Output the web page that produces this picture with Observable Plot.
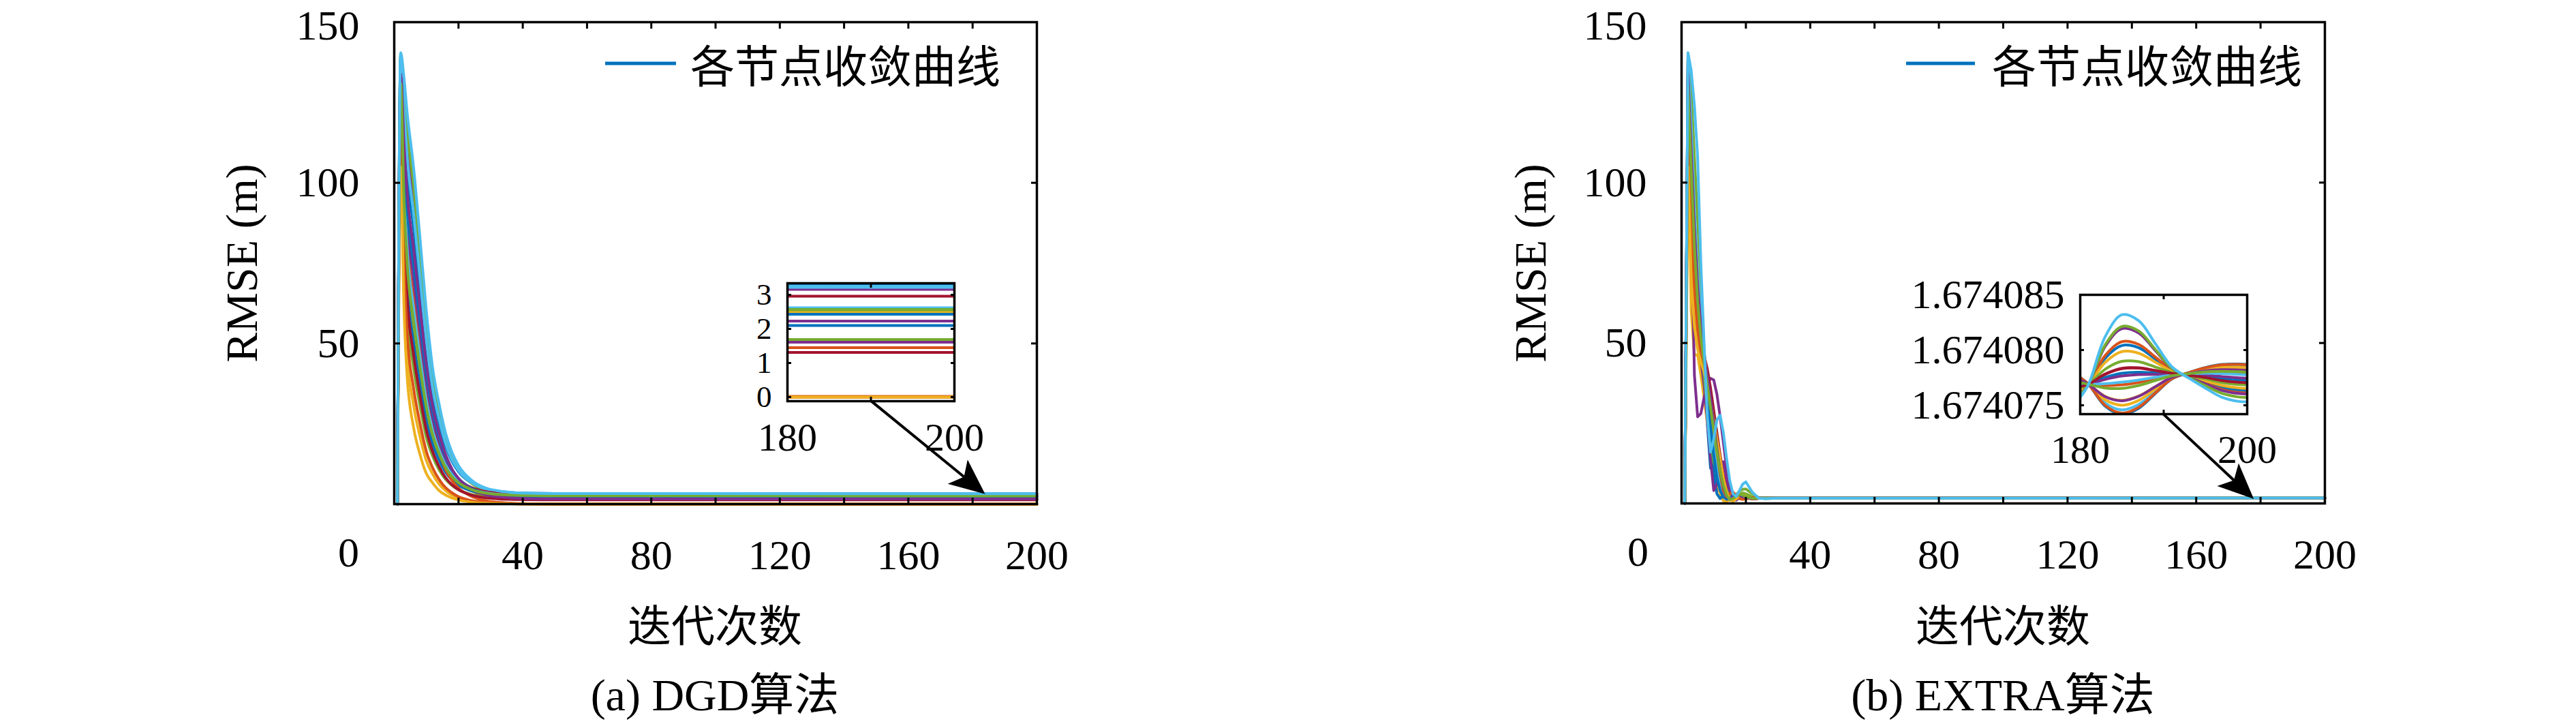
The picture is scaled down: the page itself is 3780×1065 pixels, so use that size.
<!DOCTYPE html>
<html><head><meta charset="utf-8">
<script src="https://cdn.jsdelivr.net/npm/d3@7"></script>
<script src="https://cdn.jsdelivr.net/npm/@observablehq/plot@0.6"></script>
<style>
html,body{margin:0;padding:0;background:#fff;}
#root{position:relative;width:3780px;height:1065px;overflow:hidden;background:#fff;color:#000;}
.abs{position:absolute;white-space:nowrap;line-height:1;}
.serif{font-family:"Liberation Serif","Noto Sans CJK SC",serif;}
.cjk{font-family:"Noto Sans CJK SC","Liberation Serif",sans-serif;}
</style></head>
<body><div id="root"></div>
<script>
// ---------- data ----------
const lineColors = ["#0072BD","#D95319","#EDB120","#7E2F8E","#77AC30","#4DBEEE","#A2142F"];
const nodeIds = [1,2,3,4,5,6,7,8,9,10,11,12,13,14,15,16,17,18,19,20];
const legendLabel = "各节点收敛曲线";
const yAxisLabel = "RMSE (m)";
const xAxisLabel = "迭代次数";
const captions = ["(a) DGD算法", "(b) EXTRA算法"];

const xTickValues = [40,80,120,160,200];
const xInnerTicks = [20,40,60,80,100,120,140,160,180];
const yTickValues = [50,100];
const yTopTick = [150];
const yInnerTicks = [50,100];
const originLabel = [{x:0, y:0, t:"0"}];

// DGD: RMSE per node
const dgdIters = [1,2,3,4,6,8,10,12,14,16,18,20,24,28,32,36,40,50,60,200];
const dgdRmse = [
 [0,138,119.0,103.8,86.2,67.2,48.2,34.0,25.1,18.0,13.3,10.1,6.6,4.77,4.01,3.63,3.43,3.31,3.28,3.27],
 [0,136,109.8,92.0,73.9,56.5,39.8,27.6,20.0,14.0,9.9,7.3,4.26,2.74,2.08,1.76,1.59,1.48,1.46,1.45],
 [0,130,93.8,72.7,54.7,40.8,28.5,20.3,14.9,10.8,8.1,6.3,4.35,3.36,2.91,2.71,2.59,2.51,2.49,2.49],
 [0,139,124.8,111.2,93.8,73.5,52.9,37.1,27.4,19.5,14.3,10.8,6.86,4.83,3.99,3.55,3.34,3.20,3.17,3.16],
 [0,140,129.1,116.5,99.2,77.9,56.0,39.0,28.7,20.2,14.5,10.8,6.55,4.36,3.45,2.99,2.75,2.61,2.57,2.56],
 [0,139.5,122.7,108.2,90.6,70.8,50.9,35.8,26.4,18.9,13.8,10.5,6.75,4.82,4.01,3.60,3.40,3.26,3.23,3.22],
 [0,133,100.7,81.0,62.9,47.7,33.7,24.0,17.7,12.9,9.7,7.56,5.18,3.99,3.47,3.21,3.08,2.98,2.96,2.96],
 [0,128,90.0,68.5,50.6,37.4,25.9,18.5,13.6,9.9,7.5,5.9,4.1,3.21,2.81,2.62,2.52,2.45,2.43,2.43],
 [0,132,101.6,82.4,64.2,48.2,33.3,22.8,16.0,10.8,7.3,5.0,2.43,1.12,0.57,0.30,0.15,0.05,0.03,0.02],
 [0,110,68.9,47.2,30.9,21.1,13.5,9.3,6.2,4.2,2.8,1.9,0.9,0.44,0.21,0.12,0.06,0.01,0,0],
 [0,135,106.8,88.3,70.2,53.7,37.9,26.6,19.4,13.8,10.1,7.6,4.83,3.43,2.81,2.52,2.36,2.25,2.23,2.23],
 [0,125,83.3,60.6,42.6,30.7,20.8,14.8,10.6,7.7,5.8,4.45,3.0,2.32,2.0,1.85,1.77,1.70,1.69,1.69],
 [0,137,101.2,79.9,61.1,45.9,32.2,22.8,16.7,12.1,9.1,7.0,4.74,3.6,3.1,2.86,2.73,2.64,2.62,2.62],
 [0,128,87.4,64.9,46.6,33.8,23.0,16.2,11.6,8.2,6.0,4.5,2.83,2.03,1.66,1.49,1.40,1.33,1.31,1.31],
 [0,131,108.2,92.0,74.8,57.6,40.9,28.6,20.9,14.8,10.7,8.0,4.95,3.4,2.74,2.41,2.24,2.13,2.11,2.10],
 [0,118,76.0,53.5,36.2,25.2,16.4,11.2,7.6,5.1,3.5,2.3,1.1,0.54,0.26,0.14,0.07,0.02,0,0],
 [0,105,62.0,39.9,24.0,15.5,9.5,6.5,4.2,2.8,1.9,1.3,0.6,0.3,0.15,0.08,0.04,0.01,0,0],
 [0,134,113.0,97.2,79.6,61.5,43.6,30.3,22.0,15.4,10.9,8.0,4.71,3.03,2.31,1.95,1.77,1.64,1.62,1.61],
 [0,131,95.9,75.2,57.1,42.8,30.0,21.3,15.7,11.4,8.5,6.65,4.54,3.48,3.02,2.79,2.68,2.60,2.58,2.57],
 [0,140.5,133,122,105,83,60,42,31,22,16,12,7.5,5.2,4.2,3.7,3.45,3.3,3.27,3.25]
];
const dgdInsetYTicks = [0,1,2,3];

// EXTRA: RMSE per node
const extraIters = [1,2,3,4,5,6,7,8,9,10,11,12,13,14,15,16,17,18,19,20,22,24,26,30,200];
const extraRmse = [
 [0,138,115,85,62,50,42,25,11,10,13,9,5,2,1.2,1.5,2.2,2.6,2.3,1.8,1.4,1.6,1.7,1.67,1.674],
 [0,136,110,80,60,48,45,38,30,12,4,6,8,5,2.5,1.2,1.5,2.5,2.8,2.2,1.5,1.6,1.7,1.67,1.674],
 [0,125,60,46.3,46.3,40,33,25,18,12,7,3,0.8,0.5,1.5,2.8,2.5,1.6,1.2,1.4,1.8,1.7,1.6,1.67,1.674],
 [0,139,90,40,27,28,33,37,39,38.5,34,27,19,11,5,2,1,1.8,2.6,2.4,1.5,1.6,1.7,1.67,1.674],
 [0,140,128,108,88,68,48,30,16,14,12,10,8,5.5,3,2,2.8,3.8,4.4,4.5,3,1.8,1.5,1.67,1.674],
 [0,139,118,92,72,58,47,37,27,18,10,5,2.5,1.6,1.8,2.4,2.7,2.5,2.1,1.8,1.5,1.6,1.7,1.67,1.674],
 [0,133,105,78,60,50,46,42,36,29,22,15,9,4.5,2,1.3,1.8,2.4,2.2,1.8,1.5,1.6,1.7,1.67,1.674],
 [0,128,95,70,55,46,38,28,18,9,3,1.5,2.5,3,2.2,1.2,1.4,2,2.2,1.9,1.6,1.7,1.7,1.67,1.674],
 [0,132,108,84,66,54,47,40,33,26,19,12,6,2.5,1,1.8,2.7,3,2.5,1.8,1.4,1.6,1.7,1.67,1.674],
 [0,110,75,58,50,45,40,34,28,22,16,10,5,2,1,1.5,2,2.2,1.9,1.6,1.5,1.7,1.7,1.67,1.674],
 [0,135,104,76,56,45,37,26,14,4,6,11,13,8,3,1.6,1.2,1.8,2.3,2.2,1.6,1.6,1.7,1.67,1.674],
 [0,125,98,75,58,48,40,30,20,13,10,9,7,4,2,1.5,2,2.8,3.3,3,2,1.6,1.6,1.67,1.674],
 [0,137,112,88,68,55,45,36,26,18,11,6,3,1.8,1.5,2,2.6,2.8,2.4,2,1.6,1.6,1.7,1.67,1.674],
 [0,128,100,76,58,48,44,40,35,28,20,13,7,3,1.5,1.2,1.6,2.1,2.2,1.9,1.5,1.6,1.7,1.67,1.674],
 [0,131,106,82,63,51,43,34,24,15,8,4,2,1.3,1.6,2.2,2.5,2.2,1.8,1.6,1.6,1.7,1.7,1.67,1.674],
 [0,118,88,66,54,47,42,36,30,23,16,9,4,2,3,3.5,2.5,1.5,1.3,1.5,1.8,1.7,1.6,1.67,1.674],
 [0,105,70,55,48,44,41,37,32,26,20,14,8,3.5,1.2,0.6,1.4,2.6,2.7,2.2,1.5,1.6,1.7,1.67,1.674],
 [0,134,110,86,68,55,46,40,33,25,17,10,5,2.2,1.3,1.8,2.4,2.6,2.2,1.8,1.5,1.6,1.7,1.67,1.674],
 [0,130,104,80,63,52,44,37,30,23,16,10,5.5,2.5,1.2,1.5,2.2,2.8,2.6,2.1,1.6,1.6,1.7,1.67,1.674],
 [0,140.5,135,124,108,75,50,27,16,20,26,27.5,22,14,7,3,2.2,4,6,6.7,3.5,1.6,1.5,1.67,1.674]
];

// EXTRA inset (iterations 180-200)
const extraInsetIters = [180,181,183,185,187,189,191,193,195,197,199,200];
const extraInsetRmse = [
 [1.67407629,1.67407690,1.67407927,1.67408041,1.67408021,1.67407918,1.67407814,1.67407761,1.67407711,1.67407661,1.67407637,1.67407633],
 [1.67407622,1.67407690,1.67407952,1.67408076,1.67408051,1.67407936,1.67407818,1.67407758,1.67407700,1.67407643,1.67407616,1.67407612],
 [1.67407640,1.67407690,1.67407889,1.67407986,1.67407972,1.67407891,1.67407807,1.67407764,1.67407722,1.67407679,1.67407657,1.67407653],
 [1.67407598,1.67407690,1.67408034,1.67408194,1.67408155,1.67407995,1.67407832,1.67407756,1.67407694,1.67407634,1.67407606,1.67407602],
 [1.67407594,1.67407690,1.67408048,1.67408214,1.67408173,1.67408005,1.67407834,1.67407752,1.67407677,1.67407607,1.67407575,1.67407571],
 [1.67407745,1.67407690,1.67407520,1.67407459,1.67407508,1.67407627,1.67407744,1.67407795,1.67407835,1.67407858,1.67407861,1.67407857],
 [1.67407671,1.67407690,1.67407780,1.67407831,1.67407836,1.67407813,1.67407788,1.67407771,1.67407748,1.67407720,1.67407704,1.67407700],
 [1.67407679,1.67407690,1.67407752,1.67407790,1.67407800,1.67407793,1.67407783,1.67407775,1.67407762,1.67407741,1.67407728,1.67407724],
 [1.67407700,1.67407690,1.67407678,1.67407685,1.67407707,1.67407740,1.67407771,1.67407784,1.67407798,1.67407800,1.67407794,1.67407790],
 [1.67407737,1.67407690,1.67407549,1.67407500,1.67407544,1.67407648,1.67407749,1.67407792,1.67407825,1.67407844,1.67407844,1.67407840],
 [1.67407684,1.67407690,1.67407734,1.67407765,1.67407778,1.67407780,1.67407780,1.67407778,1.67407773,1.67407760,1.67407749,1.67407745],
 [1.67407657,1.67407690,1.67407827,1.67407898,1.67407895,1.67407847,1.67407796,1.67407769,1.67407740,1.67407706,1.67407688,1.67407684],
 [1.67407695,1.67407690,1.67407696,1.67407710,1.67407729,1.67407753,1.67407774,1.67407782,1.67407790,1.67407787,1.67407780,1.67407776],
 [1.67407670,1.67407690,1.67407783,1.67407835,1.67407839,1.67407815,1.67407789,1.67407772,1.67407751,1.67407724,1.67407708,1.67407704],
 [1.67407753,1.67407690,1.67407491,1.67407418,1.67407472,1.67407607,1.67407739,1.67407796,1.67407842,1.67407870,1.67407874,1.67407870],
 [1.67407751,1.67407690,1.67407499,1.67407429,1.67407482,1.67407612,1.67407740,1.67407796,1.67407840,1.67407867,1.67407871,1.67407867],
 [1.67407728,1.67407690,1.67407580,1.67407545,1.67407584,1.67407670,1.67407754,1.67407789,1.67407814,1.67407826,1.67407824,1.67407820],
 [1.67407729,1.67407690,1.67407577,1.67407541,1.67407581,1.67407668,1.67407754,1.67407788,1.67407812,1.67407822,1.67407820,1.67407816],
 [1.67407706,1.67407690,1.67407656,1.67407653,1.67407679,1.67407724,1.67407767,1.67407786,1.67407803,1.67407808,1.67407804,1.67407800],
 [1.67407573,1.67407690,1.67408123,1.67408320,1.67408266,1.67408058,1.67407847,1.67407746,1.67407655,1.67407572,1.67407535,1.67407531]
];
const extraInsetYTicks = [1.674075, 1.674080, 1.674085];

// zoom arrows (main-plot data coordinates: from inset to the zoomed region)
const dgdArrow = {x1: 148.5, y1: 32.0, x2: 184, y2: 3.0};
const extraArrow = {x1: 149.8, y1: 27.8, x2: 178, y2: 1.3};

// ---------- helpers ----------
function rowsFrom(iters, series) {
  const rows = [];
  series.forEach((vals, k) => vals.forEach((v, j) => rows.push({node: nodeIds[k], iter: iters[j], rmse: v, color: lineColors[k % lineColors.length]})));
  return rows;
}
const dgdRows = rowsFrom(dgdIters, dgdRmse);
const extraRows = rowsFrom(extraIters, extraRmse);
const extraInsetRows = rowsFrom(extraInsetIters, extraInsetRmse);

const FONT = '"Liberation Serif","Noto Sans CJK SC",serif';
const root = document.getElementById("root");

function arrowMark(a) {
  return (index, scales) => {
    const x1 = scales.x(a.x1), y1 = scales.y(a.y1), x2 = scales.x(a.x2), y2 = scales.y(a.y2);
    const ang = Math.atan2(y2 - y1, x2 - x1);
    const ux = Math.cos(ang), uy = Math.sin(ang), px = -uy, py = ux;
    const L = 52, W = 23, N = 40;
    const bx = x2 - L * ux, by = y2 - L * uy, nx = x2 - N * ux, ny = y2 - N * uy;
    const g = d3.create("svg:g");
    g.append("line").attr("x1", x1).attr("y1", y1).attr("x2", nx).attr("y2", ny)
      .attr("stroke", "black").attr("stroke-width", 4);
    g.append("path").attr("d", `M${x2},${y2}L${bx + W * px},${by + W * py}L${nx},${ny}L${bx - W * px},${by - W * py}Z`)
      .attr("fill", "black");
    return g.node();
  };
}

function place(node, left, top) {
  const d = document.createElement("div");
  d.className = "abs";
  d.style.left = left + "px"; d.style.top = top + "px";
  d.appendChild(node);
  root.appendChild(d);
}

function mainPlot(rows, arrow, ml, mr, mb, originDx, curve) {
  return Plot.plot({
    width: 1890, height: 1065,
    marginLeft: ml, marginRight: mr, marginTop: 32, marginBottom: mb,
    x: {domain: [0, 200]},
    y: {domain: [0, 150]},
    color: {type: "identity"},
    style: {fontFamily: FONT, fontSize: "62px", color: "black", background: "transparent", overflow: "visible"},
    marks: [
      Plot.line(rows, {x: "iter", y: "rmse", z: "node", stroke: "color", strokeWidth: 4, curve}),
      Plot.axisY(yTickValues, {anchor: "left", tickSize: 0, tickPadding: 51, label: null}),
      Plot.axisY(yTopTick, {anchor: "left", tickSize: 0, tickPadding: 51, dy: 6, label: null}),
      Plot.axisY(yInnerTicks, {anchor: "left", tickSize: -9, fill: "none", strokeWidth: 3, label: null}),
      Plot.axisY(yInnerTicks, {anchor: "right", tickSize: -9, fill: "none", strokeWidth: 3, label: null}),
      Plot.axisX(xTickValues, {anchor: "bottom", tickSize: 0, tickPadding: 51, label: null}),
      Plot.axisX(xInnerTicks, {anchor: "bottom", tickSize: -9, fill: "none", strokeWidth: 3, label: null}),
      Plot.axisX(xInnerTicks, {anchor: "top", tickSize: -9, fill: "none", strokeWidth: 3, label: null}),
      Plot.text(originLabel, {x: "x", y: "y", text: "t", dx: originDx, dy: 72, fontSize: 62}),
      Plot.frame({stroke: "black", strokeWidth: 3.5}),
      arrowMark(arrow)
    ]
  });
}

function insetPlot(rows, yDomain, yTicks, yFormat, ml, fw, fh, curve, yFont, xFont, xPad) {
  return Plot.plot({
    width: ml + fw + 60, height: 20 + fh + 100,
    marginLeft: ml, marginRight: 60, marginTop: 20, marginBottom: 100,
    x: {domain: [180, 200]},
    y: {domain: yDomain},
    color: {type: "identity"},
    style: {fontFamily: FONT, fontSize: "62px", color: "black", background: "transparent", overflow: "visible"},
    marks: [
      Plot.line(rows, {x: "iter", y: "rmse", z: "node", stroke: "color", strokeWidth: 4, curve, clip: true}),
      Plot.axisY(yTicks, {anchor: "left", tickSize: 0, tickPadding: 23, tickFormat: yFormat, fontSize: yFont, label: null}),
      Plot.axisY(yTicks, {anchor: "left", tickSize: -6, fill: "none", strokeWidth: 3, label: null}),
      Plot.axisY(yTicks, {anchor: "right", tickSize: -6, fill: "none", strokeWidth: 3, label: null}),
      Plot.axisX([180, 200], {anchor: "bottom", tickSize: 0, tickPadding: xPad, fontSize: xFont, label: null}),
      Plot.axisX([190], {anchor: "bottom", tickSize: -6, fill: "none", strokeWidth: 3, label: null}),
      Plot.axisX([190], {anchor: "top", tickSize: -6, fill: "none", strokeWidth: 3, label: null}),
      Plot.frame({stroke: "black", strokeWidth: 3.5})
    ]
  });
}

function addText(txt, cls, left, top, size, rotate) {
  const d = document.createElement("div");
  d.className = "abs " + cls;
  d.textContent = txt;
  d.style.left = left + "px"; d.style.top = top + "px";
  d.style.fontSize = size + "px";
  d.style.transform = "translate(-50%,-50%)" + (rotate ? " rotate(-90deg)" : "");
  root.appendChild(d);
}

function addLegend(lineX, lineW, textX, cy) {
  const svg = d3.create("svg").attr("width", lineW).attr("height", 12)
    .style("position", "absolute").style("left", lineX + "px").style("top", (cy - 6) + "px");
  svg.append("line").attr("x1", 0).attr("x2", lineW).attr("y1", 6).attr("y2", 6)
    .attr("stroke", lineColors[0]).attr("stroke-width", 5);
  root.appendChild(svg.node());
  const d = document.createElement("div");
  d.className = "abs cjk";
  d.textContent = legendLabel;
  d.style.left = textX + "px"; d.style.top = cy + "px";
  d.style.fontSize = "65px";
  d.style.transform = "translateY(-50%)";
  root.appendChild(d);
}

// ---------- panel (a) DGD ----------
place(mainPlot(dgdRows, dgdArrow, 578, 369, 326, -67, "monotone-x"), 0, 0);
place(insetPlot(dgdRows.filter(d => d.iter >= 60), [-0.12, 3.34], dgdInsetYTicks, d3.format("d"), 100, 245, 173, "linear", 45, 58, 31), 1155 - 100, 415 - 20);
addLegend(888, 104, 1013, 93);
addText(yAxisLabel, "serif", 355, 386, 66, true);
addText(xAxisLabel, "cjk", 1049, 913, 64, false);
addText(captions[0], "serif", 1049, 1020, 66, false);

// ---------- panel (b) EXTRA ----------
place(mainPlot(extraRows, extraArrow, 577, 369, 327, -64, "linear"), 1890, 0);
place(insetPlot(extraInsetRows, [1.6740742, 1.674085], extraInsetYTicks, d3.format(".6f"), 300, 245, 175, "catmull-rom", 60, 58, 30), 3052 - 300, 432 - 20);
addLegend(2797, 101, 2923, 93);
addText(yAxisLabel, "serif", 2246, 386, 66, true);
addText(xAxisLabel, "cjk", 2939, 913, 64, false);
addText(captions[1], "serif", 2939, 1020, 66, false);
</script>
</body></html>
